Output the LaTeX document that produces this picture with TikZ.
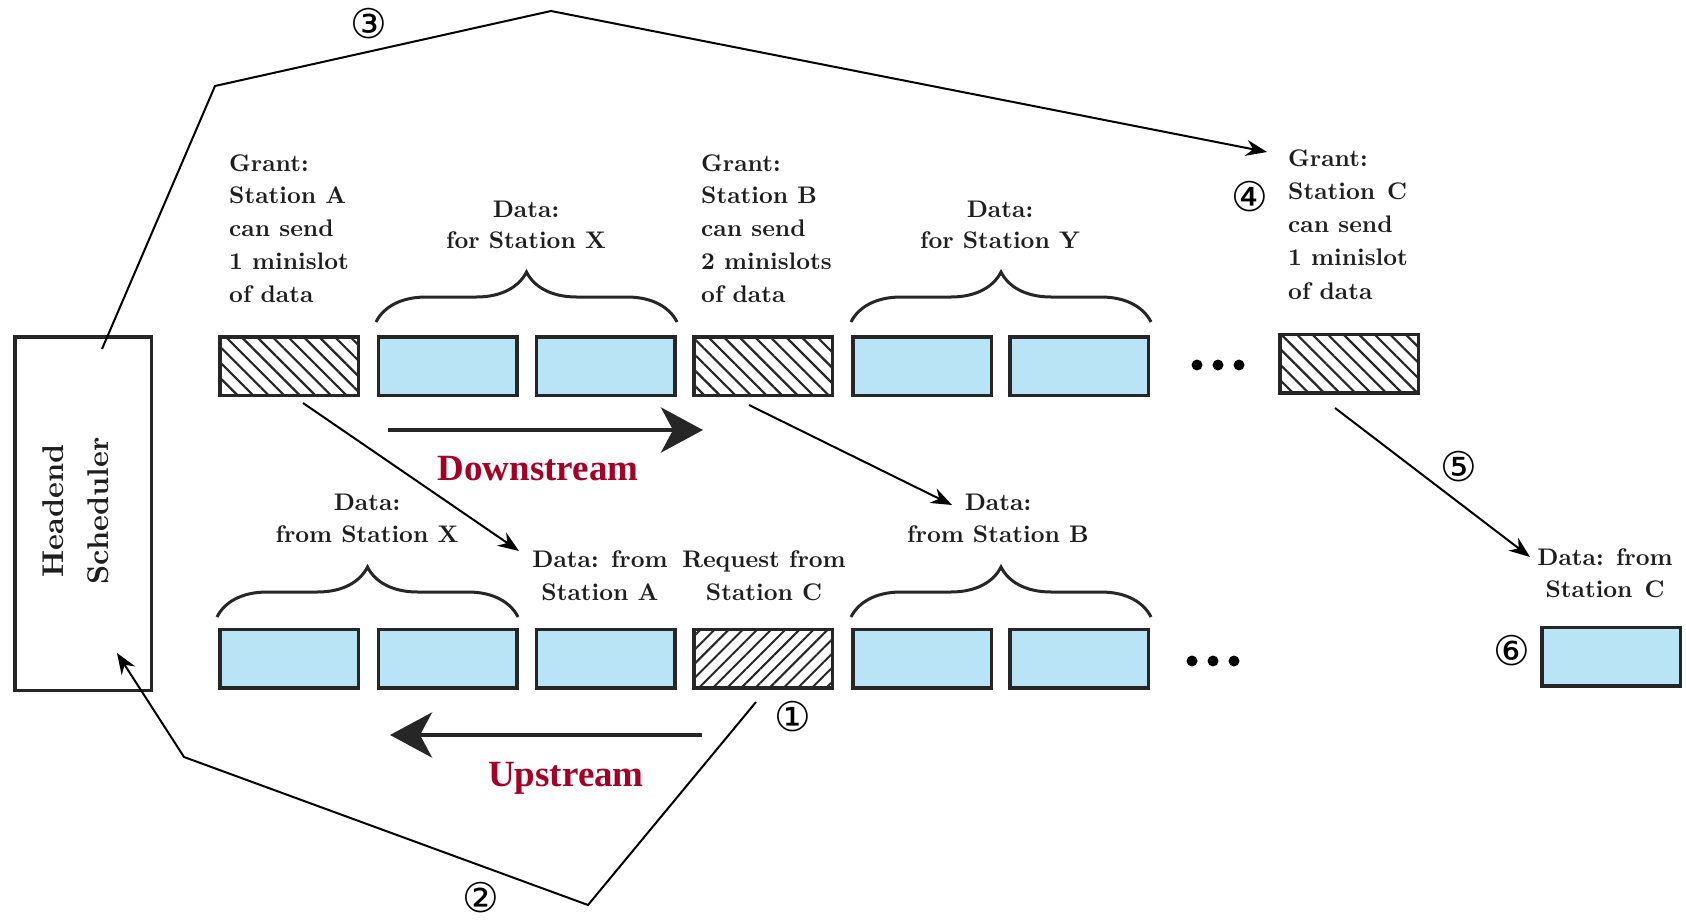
\documentclass[tikz,border=0pt]{standalone}
\usepackage{fontspec}
\newfontfamily\tmsfont{Liberation Serif}
\newfontfamily\djfont{DejaVu Sans}
\newfontfamily\lmbold{lmroman10-bold}[Extension=.otf]
\usetikzlibrary{arrows.meta,patterns.meta,decorations.pathreplacing,calc}
\definecolor{slotblue}{RGB}{185,228,246}
\definecolor{edgegray}{RGB}{38,38,38}
\definecolor{dred}{RGB}{163,0,38}
\definecolor{txt}{RGB}{30,30,30}
\begin{document}
\begin{tikzpicture}[x=1pt,y=-1pt,
 slot/.style={draw=edgegray,line width=3.5pt,minimum width=138.5pt,minimum height=58.5pt,inner sep=0pt},
 blueslot/.style={slot,fill=slotblue},
 grantslot/.style={slot,pattern={Lines[angle=-45,distance=11pt,line width=2.2pt]},pattern color=edgegray},
 reqslot/.style={slot,pattern={Lines[angle=45,distance=10pt,line width=2pt]},pattern color=edgegray},
 lbl/.style={font=\lmbold\fontsize{24}{32.75}\selectfont,inner sep=0pt,text=txt},
 circnum/.style={font=\djfont\fontsize{41}{43}\selectfont,inner sep=0pt},
 conn/.style={line width=2pt,-{Stealth[length=21pt,width=16pt]}},
 bigarrow/.style={line width=4.5pt,draw=edgegray,-{Stealth[length=42pt,width=45pt,inset=12pt]}},
 flowlabel/.style={font=\tmsfont\bfseries\fontsize{37}{40}\selectfont,text=dred,inner sep=0pt},
 curly/.style={decorate,decoration={brace,amplitude=50pt},line width=3pt,draw=edgegray},
 ellipsisdot/.style={circle,fill=black,inner sep=0pt,minimum size=11pt}
]
\useasboundingbox (0,0) rectangle (1686,920);

% headend
\node[draw=edgegray,line width=3.5pt,minimum width=136.5pt,minimum height=353.5pt,inner sep=0pt] (hd) at (83,513.5) {};
\node[rotate=90,align=center,font=\lmbold\fontsize{30}{45}\selectfont,inner sep=0pt,text=txt] (hdtext) at (76,511) {Headend\\Scheduler};

% downstream row
\node[grantslot] (t1) at (289,366) {};
\node[blueslot] (t2) at (447.5,366) {};
\node[blueslot] (t3) at (605.5,366) {};
\node[grantslot] (t4) at (763,366) {};
\node[blueslot] (t5) at (922,366) {};
\node[blueslot] (t6) at (1079,366) {};
\node[grantslot] (t7) at (1349,363.5) {};
\node[ellipsisdot] (td1) at (1197,365) {};
\node[ellipsisdot] (td2) at (1218,365) {};
\node[ellipsisdot] (td3) at (1239,365) {};

% upstream row
\node[blueslot] (b1) at (289,658.5) {};
\node[blueslot] (b2) at (447.5,658.5) {};
\node[blueslot] (b3) at (605.5,658.5) {};
\node[reqslot] (b4) at (763,658.5) {};
\node[blueslot] (b5) at (922,658.5) {};
\node[blueslot] (b6) at (1079,658.5) {};
\node[blueslot] (b7) at (1611,656.5) {};
\node[ellipsisdot] (bd1) at (1192,661) {};
\node[ellipsisdot] (bd2) at (1213,661) {};
\node[ellipsisdot] (bd3) at (1234,661) {};

% braces
\draw[curly] (376,322) -- (677,322);
\draw[curly] (851,322) -- (1151,322);
\draw[curly] (217,617) -- (518,617);
\draw[curly] (851,617) -- (1151,617);

% labels (base = baseline of the last line)
\node[lbl,anchor=base west,align=left] (gA) at (229,302) {Grant:\\Station A\\can send\\1 minislot\\of data};
\node[lbl,anchor=base west,align=left] (gB) at (701,302) {Grant:\\Station B\\can send\\2 minislots\\of data};
\node[lbl,anchor=base west,align=left,font=\lmbold\fontsize{24}{33.25}\selectfont] (gC) at (1288,299) {Grant:\\Station\enspace C\\can send\\1 minislot\\of data};
\node[lbl,anchor=base,align=center,font=\lmbold\fontsize{24}{31}\selectfont] (dX) at (526,248) {Data:\\for Station X};
\node[lbl,anchor=base,align=center,font=\lmbold\fontsize{24}{31}\selectfont] (dY) at (1000,248) {Data:\\for Station Y};
\node[lbl,anchor=base,align=center,font=\lmbold\fontsize{24}{32}\selectfont] (fX) at (367,542) {Data:\\from Station X};
\node[lbl,anchor=base,align=center,font=\lmbold\fontsize{24}{33}\selectfont] (fA) at (600,600) {Data: from\\Station A};
\node[lbl,anchor=base,align=center,font=\lmbold\fontsize{24}{33}\selectfont] (rC) at (764,600) {Request from\\Station C};
\node[lbl,anchor=base,align=center,font=\lmbold\fontsize{24}{32}\selectfont] (fB) at (998,542) {Data:\\from Station B};
\node[lbl,anchor=base,align=center,font=\lmbold\fontsize{24}{32.5}\selectfont] (fC) at (1605,597.5) {Data: from\\Station\enspace C};

\node[flowlabel,anchor=base] (down) at (538,480) {Downstream};
\node[flowlabel,anchor=base] (up) at (566,786) {Upstream};

% circled numbers
\node[circnum] (n1) at (793,717) {①};
\node[circnum] (n2) at (481,898) {②};
\node[circnum] (n3) at (369,24) {③};
\node[circnum] (n4) at (1250,197) {④};
\node[circnum] (n5) at (1459,467) {⑤};
\node[circnum] (n6) at (1512,651) {⑥};

% direction arrows
\coordinate (ds) at (388,430);
\coordinate (de) at (703,430);
\coordinate (us) at (702,735);
\coordinate (ue) at (390,735);
\draw[bigarrow] (ds) -- (de);
\draw[bigarrow] (us) -- (ue);

% connectors
\coordinate (s3) at (102,349);
\coordinate (k3a) at (215,86);
\coordinate (k3b) at (551,11);
\coordinate (e3) at (1267,152);
\draw[conn] (s3) -- (k3a) -- (k3b) -- (e3);

\coordinate (sA) at (303,403);
\coordinate (eA) at (519,551);
\draw[conn] (sA) -- (eA);

\coordinate (sB) at (749,405);
\coordinate (eB) at (952,505);
\draw[conn] (sB) -- (eB);

\coordinate (sC) at (1335,408);
\coordinate (eC) at (1530,557);
\draw[conn] (sC) -- (eC);

\coordinate (s1) at (756,702);
\coordinate (k1a) at (588,905);
\coordinate (k1b) at (184,757);
\coordinate (e1) at (117,653);
\draw[conn] (s1) -- (k1a) -- (k1b) -- (e1);
\end{tikzpicture}
\end{document}
